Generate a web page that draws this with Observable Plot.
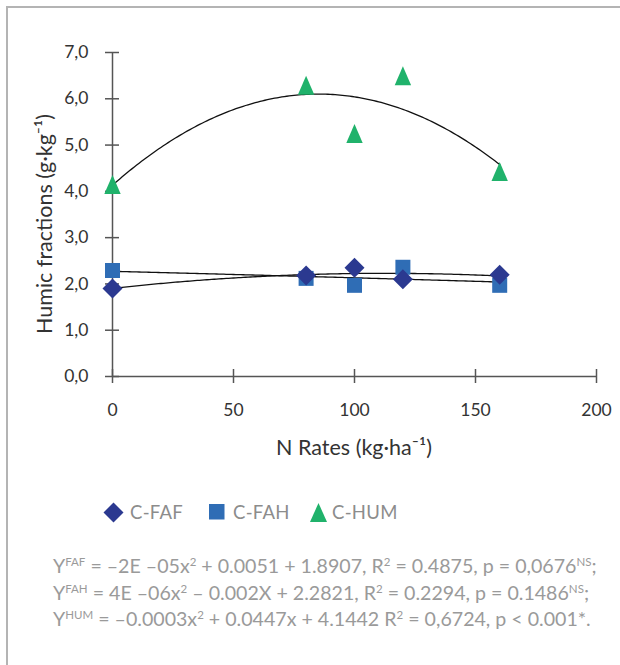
<!DOCTYPE html>
<html><head><meta charset="utf-8">
<script src="https://cdn.jsdelivr.net/npm/d3@7"></script>
<script src="https://cdn.jsdelivr.net/npm/@observablehq/plot@0.6"></script>
<style>
body{margin:0;background:#fff;font-family:Lato,"Noto Sans",sans-serif;}
#frame{position:absolute;left:6px;top:6px;width:614px;height:659px;border-top:2px solid #b4b4b4;border-left:2px solid #b4b4b4;box-sizing:border-box}
#chart{position:absolute;left:0;top:0}
.axlab{position:absolute;color:#333;font-size:21.5px;white-space:nowrap}
#xlab{left:354px;top:447px;transform:translate(-50%,-50%)}
#ylab{left:43.5px;top:223.5px;transform:translate(-50%,-50%) rotate(-90deg)}
.leg{position:absolute;top:512px;transform:translateY(-50%);color:#8c8c8c;font-size:18.5px;letter-spacing:0.3px;display:flex;align-items:center}
.leg svg{margin-right:6px}
#eq{position:absolute;left:53px;top:553px;color:#9a9a9a;font-size:19.6px;line-height:26.5px;white-space:nowrap}
#eq sup{font-size:11.5px;vertical-align:7px;line-height:0}
</style></head>
<body>
<div id="frame"></div>
<div id="chart"></div>
<div id="xlab" class="axlab">N Rates (kg·ha⁻¹)</div>
<div id="ylab" class="axlab">Humic fractions (g·kg⁻¹)</div>
<div class="leg" style="left:103px"><svg width="21" height="21"><polygon points="10.5,0.5 20.5,10.5 10.5,20.5 0.5,10.5" fill="#2b3990"/></svg>C-FAF</div>
<div class="leg" style="left:209px"><svg width="16" height="16" style="margin-right:8px"><rect x="0" y="0" width="15.5" height="15.5" fill="#2f6db5"/></svg>C-FAH</div>
<div class="leg" style="left:310px"><svg width="17" height="19" style="margin-right:5px"><polygon points="8.5,0 17,19 0,19" fill="#20b26b"/></svg>C-HUM</div>
<div id="eq">
<div>Y<sup>FAF</sup> = –2E –05x<sup>2</sup> + 0.0051 + 1.8907, R<sup>2</sup> = 0.4875, p = 0,0676<sup>NS</sup>;</div>
<div>Y<sup>FAH</sup> = 4E –06x<sup>2</sup> – 0.002X + 2.2821, R<sup>2</sup> = 0.2294, p = 0.1486<sup>NS</sup>;</div>
<div>Y<sup>HUM</sup> = –0.0003x<sup>2</sup> + 0.0447x + 4.1442 R<sup>2</sup> = 0,6724, p &lt; 0.001*.</div>
</div>
<script>
const nRates = [0, 80, 100, 120, 160];
const cFAF = [1.90, 2.18, 2.35, 2.10, 2.20];
const cFAH = [2.29, 2.12, 1.97, 2.36, 1.97];
const cHUM = [4.15, 6.29, 5.25, 6.50, 4.43];
const xTicks = [0, 50, 100, 150, 200];
const yTicks = [0, 1, 2, 3, 4, 5, 6, 7];

function quadFit(xs, ys) {
  let s0 = xs.length, s1 = 0, s2 = 0, s3 = 0, s4 = 0, t0 = 0, t1 = 0, t2 = 0;
  xs.forEach((x, i) => { const y = ys[i]; s1 += x; s2 += x*x; s3 += x**3; s4 += x**4; t0 += y; t1 += x*y; t2 += x*x*y; });
  const det = (m) => m[0][0]*(m[1][1]*m[2][2]-m[1][2]*m[2][1]) - m[0][1]*(m[1][0]*m[2][2]-m[1][2]*m[2][0]) + m[0][2]*(m[1][0]*m[2][1]-m[1][1]*m[2][0]);
  const A = [[s4, s3, s2], [s3, s2, s1], [s2, s1, s0]];
  const B = [t2, t1, t0];
  const D = det(A);
  const sol = [0, 1, 2].map(j => det(A.map((r, i) => r.map((v, k) => k === j ? B[i] : v))) / D);
  return x => sol[0]*x*x + sol[1]*x + sol[2];
}
const fitXs = d3.range(0, 160.01, 1);
function fitRows(ys, name) { const f = quadFit(nRates, ys); return fitXs.map(x => ({x, y: f(x), s: name})); }
const rows = (ys, s) => nRates.map((x, i) => ({x, y: ys[i], s}));

const diamond = {draw(ctx) { ctx.moveTo(0, -10); ctx.lineTo(10, 0); ctx.lineTo(0, 10); ctx.lineTo(-10, 0); ctx.closePath(); }};
const square = {draw(ctx) { ctx.rect(-7.5, -7.5, 15, 15); }};
const triangle = {draw(ctx) { ctx.moveTo(0, -9.5); ctx.lineTo(8.2, 9.5); ctx.lineTo(-8.2, 9.5); ctx.closePath(); }};

const plot = Plot.plot({
  width: 620, height: 470,
  marginLeft: 112, marginRight: 24, marginTop: 52, marginBottom: 94,
  x: {domain: [0, 200]},
  y: {domain: [0, 7]},
  style: {fontFamily: "Lato, 'Noto Sans', sans-serif", fontSize: "17.5px", color: "#333", background: "transparent", overflow: "visible"},
  marks: [
    Plot.ruleY([0], {stroke: "#555", strokeWidth: 1.5}),
    Plot.ruleX([0], {stroke: "#555", strokeWidth: 1.5}),
    Plot.axisX({ticks: xTicks, tickSize: 14, dy: -7, tickPadding: 20, label: null, stroke: "#555", strokeWidth: 1.5, fill: "#333"}),
    Plot.axisY({ticks: yTicks, tickSize: 14, dx: 7, tickPadding: 17, label: null, tickFormat: d => d.toFixed(1).replace(".", ","), stroke: "#555", strokeWidth: 1.5, fill: "#333"}),
    Plot.line(fitRows(cFAH, "FAH"), {x: "x", y: "y", stroke: "#111", strokeWidth: 1.3}),
    Plot.line(fitRows(cFAF, "FAF"), {x: "x", y: "y", stroke: "#111", strokeWidth: 1.3}),
    Plot.line(fitRows(cHUM, "HUM"), {x: "x", y: "y", stroke: "#111", strokeWidth: 1.3}),
    Plot.dot(rows(cFAH, "C-FAH"), {x: "x", y: "y", symbol: () => square, fill: "#2f6db5", r: 8}),
    Plot.dot(rows(cFAF, "C-FAF"), {x: "x", y: "y", symbol: () => diamond, fill: "#2b3990", r: 8}),
    Plot.dot(rows(cHUM, "C-HUM"), {x: "x", y: "y", symbol: () => triangle, fill: "#20b26b", r: 8})
  ]
});
document.getElementById("chart").appendChild(plot);
</script>
</body></html>
